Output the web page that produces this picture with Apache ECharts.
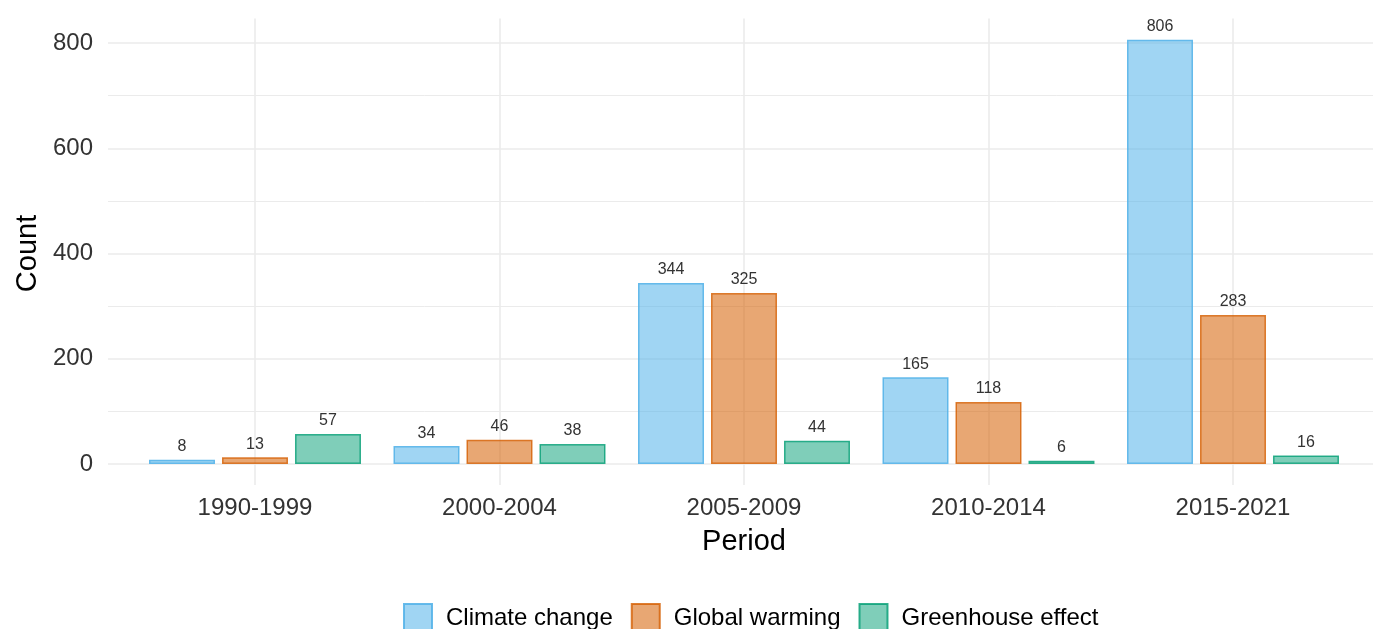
<!DOCTYPE html>
<html>
<head>
<meta charset="utf-8">
<script src="https://cdn.jsdelivr.net/npm/echarts@6/dist/echarts.min.js"></script>
<style>
html,body{margin:0;padding:0;background:#fff;}
#chart{width:1373px;height:629px;}
</style>
</head>
<body>
<div id="chart"></div>
<script>
const categories = ['1990-1999', '2000-2004', '2005-2009', '2010-2014', '2015-2021'];
const seriesNames = ['Climate change', 'Global warming', 'Greenhouse effect'];
const climateChange = [8, 34, 344, 165, 806];
const globalWarming = [13, 46, 325, 118, 283];
const greenhouseEffect = [57, 38, 44, 6, 16];
const yTicks = [0, 200, 400, 600, 800];

const fills = ['rgba(86,180,233,0.56)', 'rgba(213,94,0,0.55)', 'rgba(0,158,115,0.5)'];
const borders = ['rgba(86,180,233,0.9)', 'rgba(213,94,0,0.8)', 'rgba(0,158,115,0.8)'];
const FONT = '"Liberation Sans", Arial, Helvetica, sans-serif';
const GRIDC = '#EBEBEB';

const chart = echarts.init(document.getElementById('chart'), null, {renderer: 'canvas'});

const values = [climateChange, globalWarming, greenhouseEffect];
const barSeries = values.map((v, i) => ({
  name: seriesNames[i],
  type: 'bar',
  xAxisIndex: 0,
  yAxisIndex: 0,
  data: v,
  barWidth: 66,
  barGap: '10.6%',
  z: 5,
  itemStyle: {color: fills[i], borderColor: borders[i], borderWidth: 1.5},
  label: {show: true, position: 'top', distance: 5, color: '#333', fontSize: 16, fontFamily: FONT},
  emphasis: {disabled: true}
}));

chart.setOption({
  animation: false,
  backgroundColor: '#fff',
  textStyle: {fontFamily: FONT},
  grid: [
    {left: 132.75, right: 17.75, top: 18.6, bottom: 165},   // bars
    {left: 108, right: 0, top: 43, bottom: 165},            // horizontal grid + y labels
    {left: 255, right: 140, top: 18.6, bottom: 144}          // vertical grid
  ],
  xAxis: [
    {
      type: 'category', gridIndex: 0, data: categories,
      axisLine: {show: false}, axisTick: {show: false}, splitLine: {show: false},
      axisLabel: {fontSize: 24, color: '#333', margin: 32, fontFamily: FONT},
      name: 'Period', nameLocation: 'middle', nameGap: 63,
      nameTextStyle: {fontSize: 29, color: '#000', fontFamily: FONT}
    },
    {type: 'value', gridIndex: 1, show: false, min: 0, max: 1},
    {
      type: 'value', gridIndex: 2, min: 0, max: categories.length - 1, interval: 1,
      axisLine: {show: false}, axisTick: {show: false}, axisLabel: {show: false},
      splitLine: {show: true, lineStyle: {color: GRIDC, width: 1.6}}
    }
  ],
  yAxis: [
    {type: 'value', gridIndex: 0, show: false, min: 0, max: 846.3},
    {
      type: 'value', gridIndex: 1, min: yTicks[0], max: yTicks[yTicks.length - 1], interval: 200,
      axisLine: {show: false}, axisTick: {show: false},
      axisLabel: {fontSize: 24, color: '#333', margin: 15, fontFamily: FONT},
      splitLine: {show: true, lineStyle: {color: GRIDC, width: 1.6}},
      minorTick: {show: false, splitNumber: 2},
      minorSplitLine: {show: true, lineStyle: {color: GRIDC, width: 1}},
      name: 'Count', nameLocation: 'middle', nameGap: 64, nameRotate: 90,
      nameTextStyle: {fontSize: 29, color: '#000', fontFamily: FONT}
    },
    {type: 'value', gridIndex: 2, show: false, min: 0, max: 1}
  ],
  legend: {
    data: seriesNames,
    left: 403, top: 603,
    padding: 0,
    itemWidth: 28, itemHeight: 28, itemGap: 18,
    icon: 'rect',
    selectedMode: false,
    textStyle: {fontSize: 24, color: '#000', fontFamily: FONT, padding: [0, 0, 0, 9]}
  },
  series: barSeries
});
</script>
</body>
</html>
